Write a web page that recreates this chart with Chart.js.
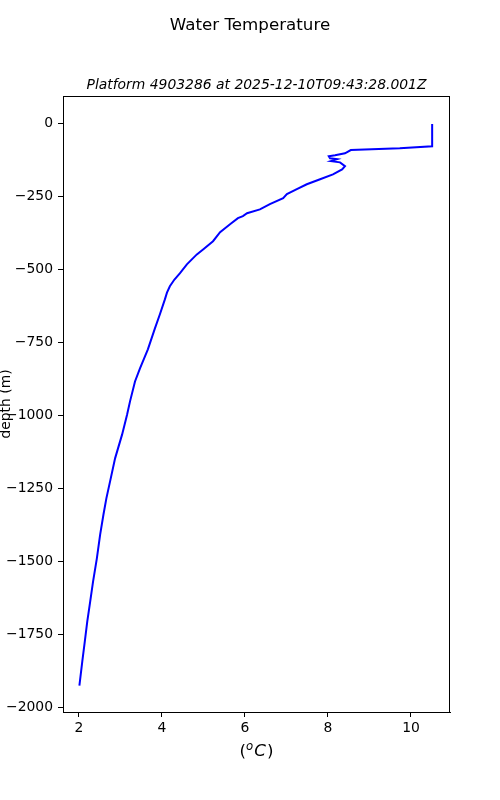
<!DOCTYPE html>
<html>
<head>
<meta charset="utf-8">
<script src="https://cdn.jsdelivr.net/npm/chart.js@4/dist/chart.umd.min.js"></script>
<style>
  body { margin: 0; background: #fff; }
  canvas { display: block; }
</style>
</head>
<body>
<canvas id="myChart" width="500" height="800"></canvas>
<script>
// profile, in order of depth
var temperature = [10.51, 10.51, 9.73, 8.55, 8.41, 8.17, 8.02, 8.05, 8.22, 8.07, 8.29, 8.41, 8.34,
  8.12, 7.81, 7.49, 7.25, 7.01, 6.92, 6.60, 6.36, 6.05, 5.95, 5.83, 5.64, 5.40, 5.23, 4.99,
  4.84, 4.60, 4.43, 4.30, 4.19, 4.12, 4.07, 3.95, 3.83, 3.66, 3.47, 3.35, 3.23, 3.16, 3.04,
  2.87, 2.76, 2.66, 2.59, 2.51, 2.43, 2.34, 2.27, 2.20, 2.14, 2.08, 2.01];
var depth = [-3, -79, -86, -92, -103, -110, -113, -120, -123, -130, -134, -147, -158,
  -175, -192, -209, -226, -243, -257, -277, -295, -308, -318, -325, -346, -373, -404, -432,
  -449, -483, -514, -535, -558, -580, -603, -654, -702, -774, -839, -884, -952, -997, -1065,
  -1147, -1219, -1284, -1339, -1408, -1490, -1568, -1637, -1705, -1774, -1842, -1925];

var xTicks = [2, 4, 6, 8, 10];
var yTicks = [0, -250, -500, -750, -1000, -1250, -1500, -1750, -2000];

var titleText = "Water Temperature";
var subtitleText = "Platform 4903286 at 2025-12-10T09:43:28.001Z";
var yLabel = "depth (m)";

var points = [];
for (let i = 0; i < temperature.length; i++) {
  points.push({ x: temperature[i], y: depth[i] });
}

function fmt(v) {
  return v < 0 ? "\u2212" + Math.abs(v) : String(v);
}

var textPlugin = {
  id: "textPlugin",
  afterDraw(chart) {
    let ctx = chart.ctx;
    let a = chart.chartArea;
    ctx.save();
    // box around the axes
    ctx.strokeStyle = "#000";
    ctx.lineWidth = 1;
    ctx.strokeRect(a.left + 0.5, a.top + 0.5, a.right - a.left - 1, a.bottom - a.top);

    ctx.fillStyle = "#000";
    ctx.textAlign = "center";
    ctx.textBaseline = "middle";
    ctx.font = "16.7px 'DejaVu Sans'";
    ctx.fillText(titleText, 250, 26);

    ctx.font = "italic 13.9px 'DejaVu Sans'";
    ctx.fillText(subtitleText, (a.left + a.right) / 2, 85);

    // y label
    ctx.save();
    ctx.translate(6, (a.top + a.bottom) / 2);
    ctx.rotate(-Math.PI / 2);
    ctx.font = "13.9px 'DejaVu Sans'";
    ctx.fillText(yLabel, 0, 0);
    ctx.restore();

    // x label (°C) with superscript o
    let cx = (a.left + a.right) / 2;
    let y = 752;
    ctx.textAlign = "left";
    ctx.font = "16.7px 'DejaVu Sans'";
    let w1 = ctx.measureText("(").width;
    ctx.font = "italic 11.7px 'DejaVu Sans'";
    let w2 = ctx.measureText("o").width;
    ctx.font = "italic 16.7px 'DejaVu Sans'";
    let w3 = ctx.measureText("C").width;
    ctx.font = "16.7px 'DejaVu Sans'";
    let w4 = ctx.measureText(")").width;
    let x = cx - (w1 + w2 + w3 + w4 + 2) / 2;
    ctx.fillText("(", x, y);
    x += w1;
    ctx.font = "italic 11.7px 'DejaVu Sans'";
    ctx.fillText("o", x, y - 5);
    x += w2 + 1;
    ctx.font = "italic 16.7px 'DejaVu Sans'";
    ctx.fillText("C", x, y);
    x += w3 + 1;
    ctx.font = "16.7px 'DejaVu Sans'";
    ctx.fillText(")", x, y);
    ctx.restore();
  },
};

new Chart("myChart", {
  type: "scatter",
  data: {
    datasets: [
      {
        data: points,
        showLine: true,
        borderColor: "#0000ff",
        backgroundColor: "#0000ff",
        borderWidth: 2,
        pointRadius: 0,
        tension: 0,
      },
    ],
  },
  options: {
    responsive: false,
    animation: false,
    layout: { padding: { top: 96, right: 50, left: 0, bottom: 0 } },
    plugins: {
      legend: { display: false },
      tooltip: { enabled: false },
    },
    scales: {
      x: {
        type: "linear",
        min: 1.615,
        max: 10.94,
        afterBuildTicks: (scale) => {
          scale.ticks = xTicks.map((v) => ({ value: v }));
        },
        afterFit: (scale) => {
          scale.height = 88;
        },
        grid: { drawOnChartArea: false, drawTicks: true, tickLength: 5, color: "#000" },
        border: { display: true, color: "#000" },
        ticks: {
          color: "#000",
          padding: 3,
          maxRotation: 0,
          font: { family: "DejaVu Sans", size: 13.9 },
          callback: (v) => fmt(v),
        },
      },
      y: {
        type: "linear",
        min: -2015,
        max: 93,
        afterBuildTicks: (scale) => {
          scale.ticks = yTicks.map((v) => ({ value: v }));
        },
        afterFit: (scale) => {
          scale.width = 63;
        },
        grid: { drawOnChartArea: false, drawTicks: true, tickLength: 5, color: "#000" },
        border: { display: true, color: "#000" },
        ticks: {
          color: "#000",
          padding: 5,
          font: { family: "DejaVu Sans", size: 13.9 },
          callback: (v) => fmt(v),
        },
      },
    },
  },
  plugins: [textPlugin],
});
</script>
</body>
</html>
